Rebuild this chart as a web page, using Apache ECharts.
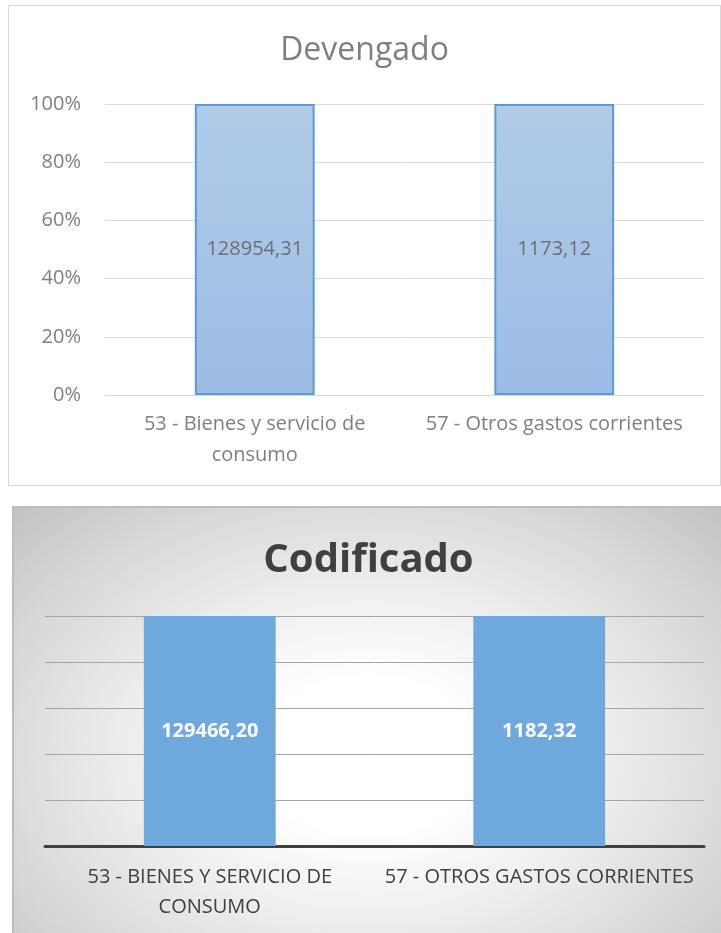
<!DOCTYPE html>
<html>
<head>
<meta charset="utf-8">
<script src="https://cdn.jsdelivr.net/npm/echarts@6/dist/echarts.min.js"></script>
<style>
  html, body { margin: 0; padding: 0; background: #fff; }
  #top {
    position: absolute; left: 8px; top: 5px; width: 711px; height: 479px;
    border: 1px solid #d9d9d9;
  }
  #bottom {
    position: absolute; left: 12px; top: 506px; width: 709px; height: 427px;
    border-left: 2px solid #bdbdbd; border-top: 2px solid #bdbdbd;
    background: radial-gradient(ellipse at 50% 58%, #ffffff 0%, #ffffff 22%, #ececec 50%, #d6d6d6 78%, #c2c2c2 100%);
  }
</style>
</head>
<body>
<div id="top"></div>
<div id="bottom"></div>
<script>
// datos
const categories = ['53 - Bienes y servicio de\nconsumo', '57 - Otros gastos corrientes']
const devengado = [128954.31, 1173.12]
const codificado = [129466.20, 1182.32]
const pctTicks = [0, 20, 40, 60, 80, 100]

// 100% apilado: cada categoría tiene una sola serie -> 100%
const toPct = arr => arr.map(v => v / v * 100)
const fmt = v => v.toFixed(2).replace('.', ',')

const font = "'Open Sans', 'Liberation Sans', sans-serif"

const topChart = echarts.init(document.getElementById('top'))
topChart.setOption({
  animation: false,
  title: {
    text: 'Devengado',
    left: 'center',
    top: 24,
    textStyle: { fontFamily: font, fontSize: 32, fontWeight: 'normal', color: '#7f7f7f' }
  },
  grid: { left: 96, right: 16, top: 98, bottom: 90 },
  xAxis: {
    type: 'category',
    data: categories,
    axisLine: { lineStyle: { color: '#d9d9d9' } },
    axisTick: { show: false },
    axisLabel: { interval: 0, fontFamily: font, fontSize: 20, color: '#7f7f7f', margin: 14, lineHeight: 31 }
  },
  yAxis: {
    type: 'value',
    min: pctTicks[0],
    max: pctTicks[pctTicks.length - 1],
    interval: 20,
    axisLine: { show: false },
    axisTick: { show: false },
    axisLabel: { fontFamily: font, fontSize: 20, color: '#7f7f7f', margin: 24, formatter: '{value}%' },
    splitLine: { lineStyle: { color: '#d9d9d9', width: 1 } }
  },
  series: [{
    type: 'bar',
    stack: 'total',
    barWidth: '40%',
    data: toPct(devengado),
    itemStyle: {
      color: new echarts.graphic.LinearGradient(0, 0, 0, 1, [
        { offset: 0, color: '#b1cce9' },
        { offset: 1, color: '#9bbce4' }
      ]),
      borderColor: '#5b9bd5',
      borderWidth: 2
    },
    label: {
      show: true,
      position: 'inside',
      fontFamily: font,
      fontSize: 20,
      color: '#6f6f6f',
      formatter: p => fmt(devengado[p.dataIndex])
    }
  }]
})

const bottomChart = echarts.init(document.getElementById('bottom'))
bottomChart.setOption({
  animation: false,
  title: {
    text: 'Codificado',
    left: 'center',
    top: 28,
    textStyle: { fontFamily: font, fontSize: 40, fontWeight: 'bold', color: '#404040' }
  },
  grid: { left: 31, right: 19, top: 108, bottom: 89 },
  xAxis: {
    type: 'category',
    data: categories.map(c => c.toUpperCase()),
    axisLine: { lineStyle: { color: '#404040', width: 3 } },
    axisTick: { show: false },
    axisLabel: { interval: 0, fontFamily: font, fontSize: 20, color: '#404040', margin: 16, lineHeight: 30 }
  },
  yAxis: {
    type: 'value',
    min: pctTicks[0],
    max: pctTicks[pctTicks.length - 1],
    interval: 20,
    axisLine: { show: false },
    axisTick: { show: false },
    axisLabel: { show: false },
    splitLine: { lineStyle: { color: '#a6a6a6', width: 1 } }
  },
  series: [{
    type: 'bar',
    stack: 'total',
    barWidth: '40%',
    data: toPct(codificado),
    itemStyle: { color: '#6fa8dc' },
    label: {
      show: true,
      position: 'inside',
      fontFamily: font,
      fontSize: 20,
      fontWeight: 'bold',
      color: '#ffffff',
      formatter: p => fmt(codificado[p.dataIndex])
    }
  }]
})
</script>
</body>
</html>
